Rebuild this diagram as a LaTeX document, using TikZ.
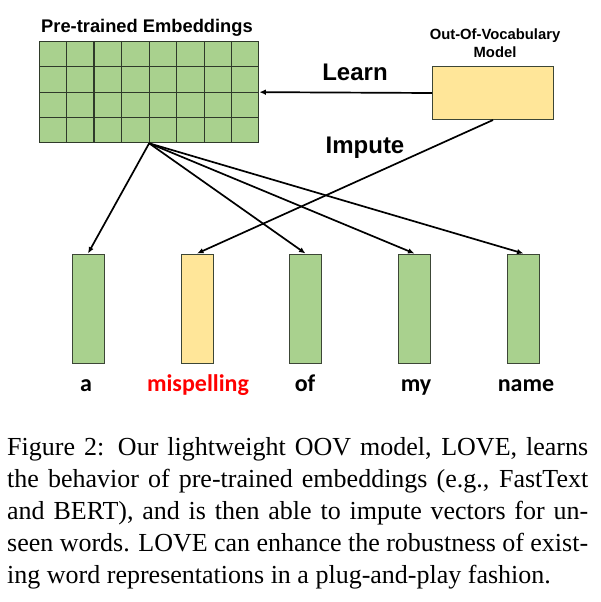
\documentclass[tikz,border=0pt]{standalone}
\usepackage{fontspec}
\setmainfont{Liberation Serif}
\newfontfamily\arialf{Liberation Sans}
\newfontfamily\calibf{Carlito}
\usetikzlibrary{arrows.meta,calc}
\definecolor{embgreen}{HTML}{A9D18E}
\definecolor{oovyellow}{HTML}{FFE699}
\definecolor{gridline}{HTML}{2F3A2A}
\definecolor{barline}{HTML}{3C4636}
\definecolor{misred}{HTML}{FF0000}
\begin{document}
\begin{tikzpicture}[x=1pt,y=-1pt,
  bar/.style={draw=barline, fill=embgreen, line width=1pt, minimum width=32pt, minimum height=109pt, inner sep=0pt},
  arr/.style={-{Latex[length=6.5pt,width=5.5pt]}, line width=1.7pt, black},
  gline/.style={draw=gridline, line width=1.3pt},
  word/.style={anchor=base, inner sep=0pt, font=\calibf\bfseries\fontsize{24}{28}\selectfont},
  bigsans/.style={anchor=base, inner sep=0pt, font=\arialf\bfseries\fontsize{24}{28}\selectfont},
  capline/.style={anchor=base west, inner sep=0pt, font=\fontsize{26}{32}\selectfont}]
\useasboundingbox (0,0) rectangle (600,602);
% embedding matrix
\node[gline, fill=embgreen, minimum width=219pt, minimum height=101pt, inner sep=0pt, anchor=north west] (emb) at (39,41) {};
\foreach \i in {1,...,7}
  \draw[gline] ($(emb.north west)!\i/8!(emb.north east)$) -- ($(emb.south west)!\i/8!(emb.south east)$);
\foreach \j in {1,2,3}
  \draw[gline] ($(emb.north west)!\j/4!(emb.south west)$) -- ($(emb.north east)!\j/4!(emb.south east)$);
\node[bigsans, font=\arialf\bfseries\fontsize{18.3}{22}\selectfont] (embtitle) at (147,33) {Pre-trained Embeddings};
% OOV model
\node[draw=barline, fill=oovyellow, line width=1pt, minimum width=121pt, minimum height=53pt, inner sep=0pt, anchor=north west] (oov) at (432,66) {};
\node[bigsans, font=\arialf\bfseries\fontsize{14.8}{17.6}\selectfont] (oovt1) at (495,40) {Out-Of-Vocabulary};
\node[bigsans, font=\arialf\bfseries\fontsize{14.8}{17.6}\selectfont] (oovt2) at (495,57.5) {Model};
\node[bigsans] (learn) at (355,80.7) {Learn};
\node[bigsans] (impute) at (365,153) {Impute};
% word vectors
\node[bar] (b1) at (88,308.5) {};
\node[bar, fill=oovyellow] (b2) at (197,308.5) {};
\node[bar] (b3) at (305.5,308.5) {};
\node[bar] (b4) at (414.5,308.5) {};
\node[bar] (b5) at (523.5,308.5) {};
\node[word] (w1) at (86,391) {a};
\node[word, text=misred] (w2) at (198,391) {mispelling};
\node[word] (w3) at (305,391) {of};
\node[word] (w4) at (416,391) {my};
\node[word] (w5) at (526,391) {name};
% connectors
\draw[arr] (oov.west) -- (emb.east);
\draw[arr] (emb.south) -- (b1.north);
\draw[arr] (emb.south) -- (b3.north);
\draw[arr] (emb.south) -- (b4.north);
\draw[arr] (emb.south) -- (b5.north);
\draw[arr] (oov.south) -- (b2.north);
% caption
\node[capline] (c1) at (7,455.5) {\makebox[581pt][s]{Figure 2: Our lightweight OOV model, LOVE, learns}};
\node[capline] (c2) at (7,487.6) {\makebox[581pt][s]{the behavior of pre-trained embeddings (e.g., FastText}};
\node[capline] (c3) at (7,519.7) {\makebox[581pt][s]{and BERT), and is then able to impute vectors for un-}};
\node[capline] (c4) at (7,551.8) {\makebox[581pt][s]{seen words. LOVE can enhance the robustness of exist-}};
\node[capline] (c5) at (7,583.9) {ing word representations in a plug-and-play fashion.};
\end{tikzpicture}
\end{document}
